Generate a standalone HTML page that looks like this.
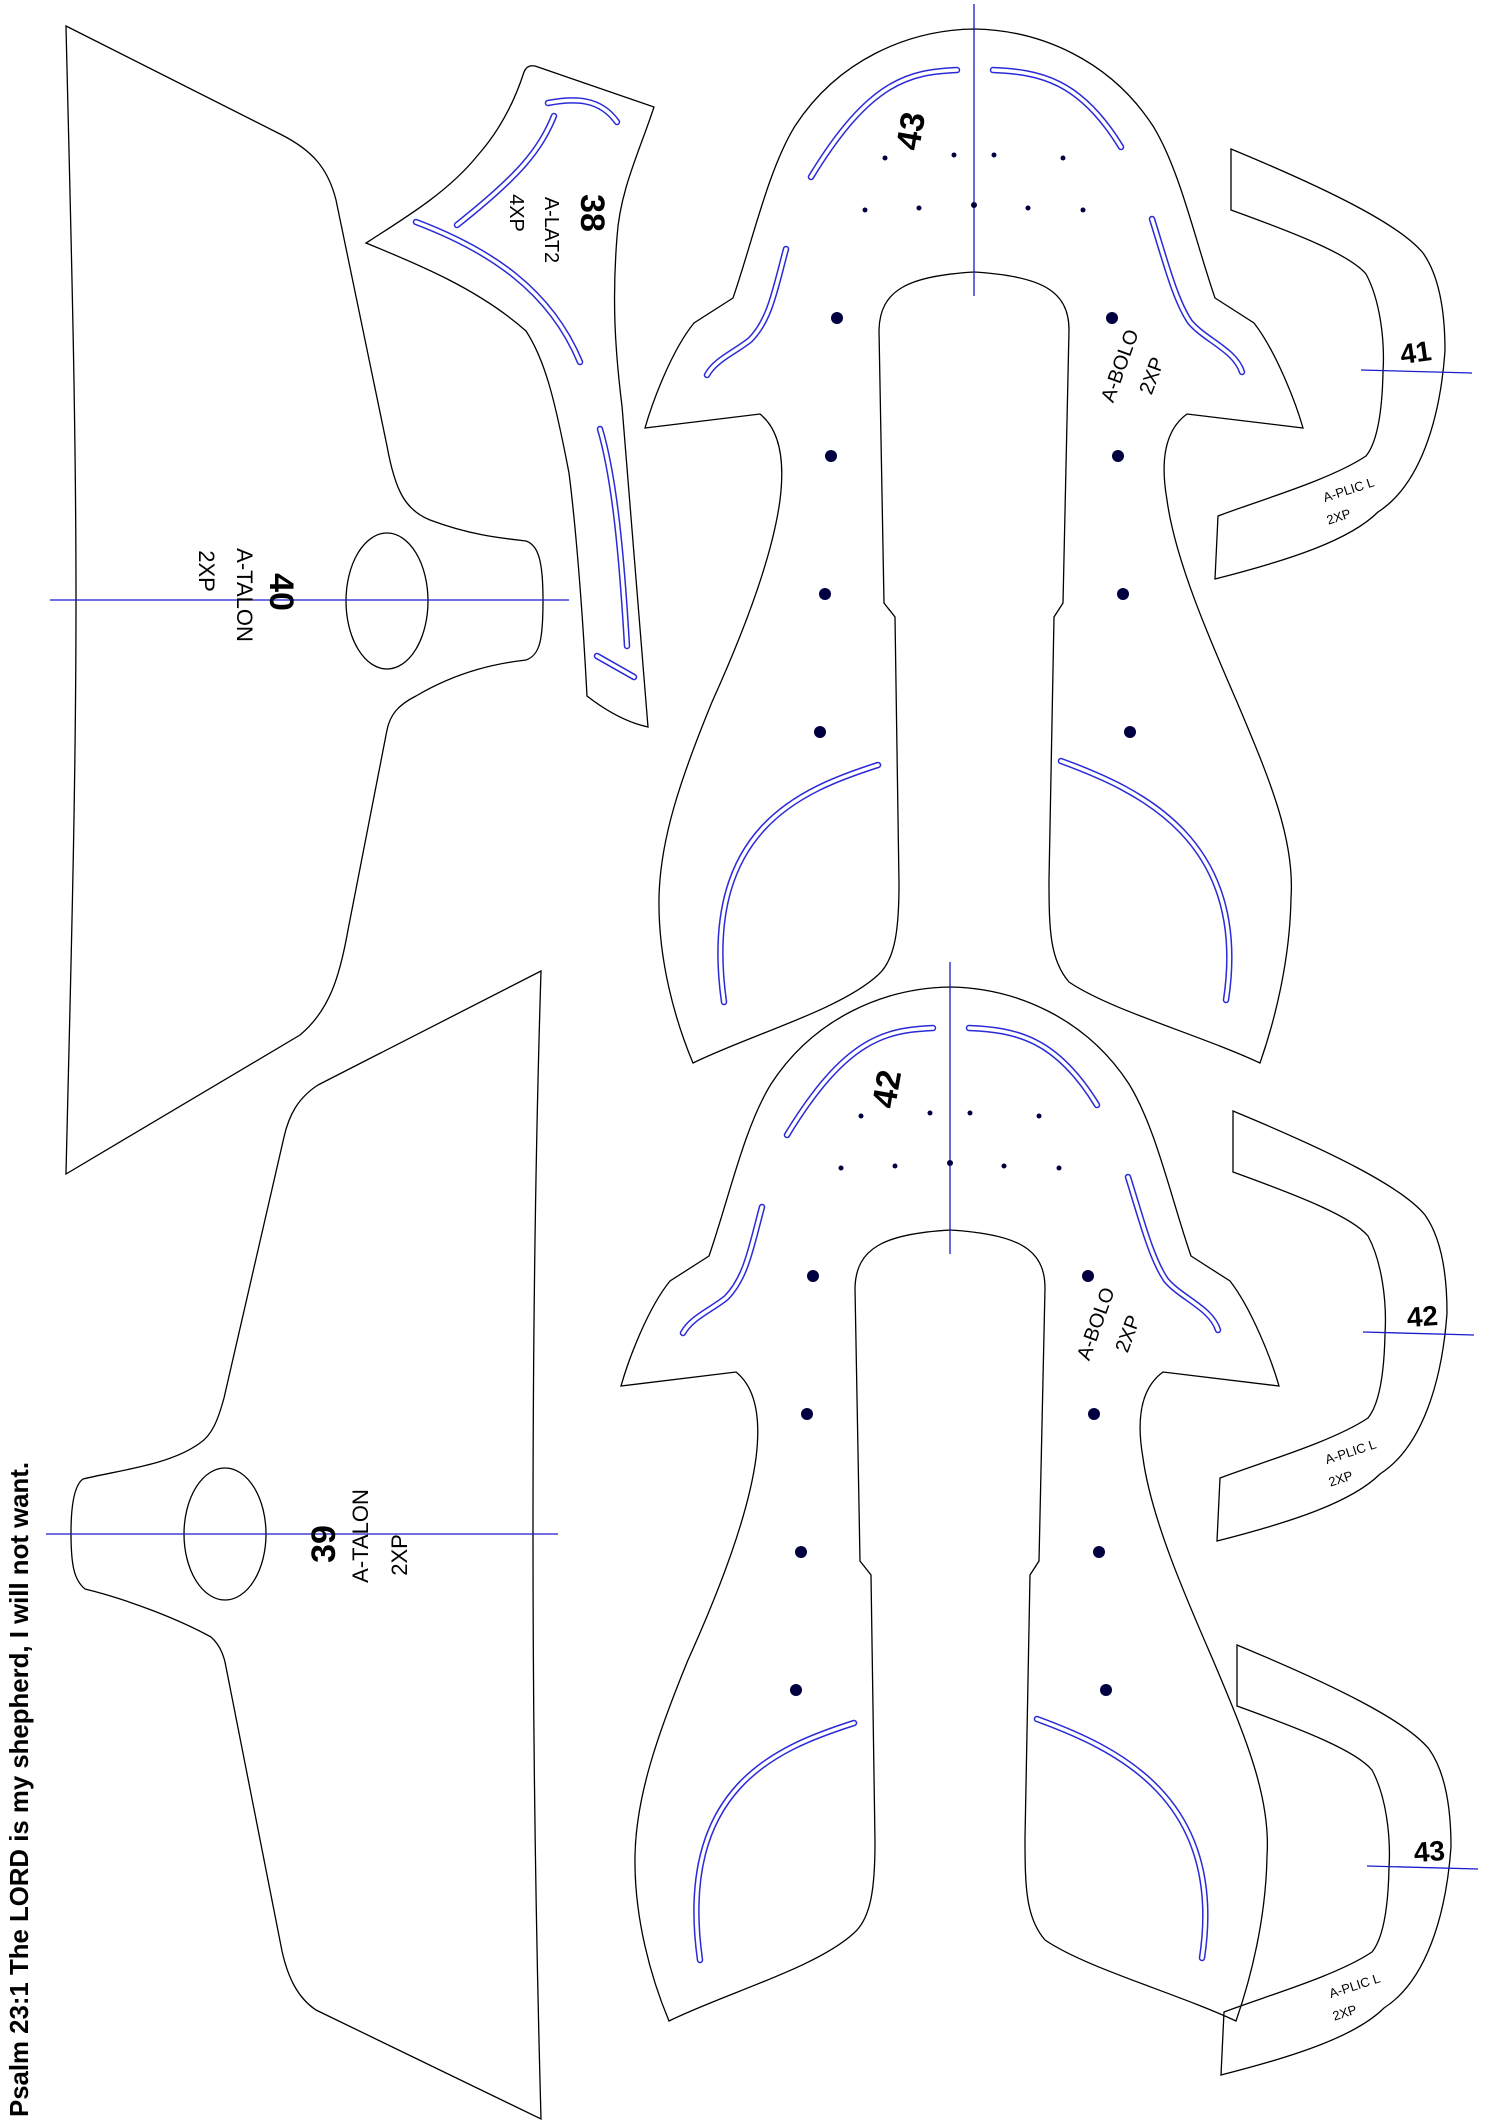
<!DOCTYPE html>
<html><head><meta charset="utf-8"><style>
html,body{margin:0;padding:0;background:#fff;}
svg{display:block;}
text{font-family:"Liberation Sans",sans-serif;fill:#000;}
.num{font-weight:bold;}
</style></head><body>
<svg width="1500" height="2121" viewBox="0 0 1500 2121" xmlns="http://www.w3.org/2000/svg">
<defs>
<g id="bolo">
<path d="M974,29 C1040,30 1110,60 1153,126 C1180,170 1195,240 1215,298 L1254,323 C1275,350 1295,400 1303,428 L1187,414 C1165,430 1160,460 1167,500 C1175,560 1210,640 1237,702 C1270,780 1295,840 1291,898 C1290,960 1275,1020 1260,1063 C1200,1035 1110,1010 1069,982 C1050,960 1049,930 1049,880 L1054,617 L1063,603 L1069,330 C1069,290 1040,276 974,272 C908,276 880,290 879,330 L884,603 L895,617 L899,884 C899,930 895,960 878,975 C840,1010 750,1035 693,1063 C675,1020 658,960 659,898 C660,840 680,780 712,702 C740,640 772,560 780,500 C785,460 780,430 760,414 L645,428 C653,400 672,350 694,323 L733,298 C753,240 768,170 795,126 C838,60 908,30 974,29 Z" fill="none" stroke="#000" stroke-width="1.3"/>
<g fill="none" stroke-linecap="round">
<g stroke="#2a2ad8" stroke-width="6.5">
<path d="M957,70 C910,72 870,80 811,177"/>
<path d="M993,70 C1040,72 1080,80 1121,147"/>
<path d="M786,249 C775,290 770,320 750,340 C735,352 715,360 707,375"/>
<path d="M1152,219 C1165,260 1175,300 1190,322 C1205,340 1235,350 1242,372"/>
<path d="M878,765 C800,790 700,830 724,1002"/>
<path d="M1061,761 C1140,790 1250,840 1226,1000"/>
</g>
<g stroke="#fff" stroke-width="3.5">
<path d="M957,70 C910,72 870,80 811,177"/>
<path d="M993,70 C1040,72 1080,80 1121,147"/>
<path d="M786,249 C775,290 770,320 750,340 C735,352 715,360 707,375"/>
<path d="M1152,219 C1165,260 1175,300 1190,322 C1205,340 1235,350 1242,372"/>
<path d="M878,765 C800,790 700,830 724,1002"/>
<path d="M1061,761 C1140,790 1250,840 1226,1000"/>
</g>
</g>
<line x1="974" y1="4" x2="974" y2="296" stroke="#1a1ad0" stroke-width="1.3"/>
<g fill="#000040">
<circle cx="885" cy="158" r="2.5"/><circle cx="954" cy="155" r="2.5"/><circle cx="994" cy="155" r="2.5"/><circle cx="1063" cy="158" r="2.5"/>
<circle cx="865" cy="210" r="2.5"/><circle cx="919" cy="208" r="2.5"/><circle cx="974" cy="205" r="3"/><circle cx="1028" cy="208" r="2.5"/><circle cx="1083" cy="210" r="2.5"/>
<circle cx="837" cy="318" r="6"/><circle cx="831" cy="456" r="6"/><circle cx="825" cy="594" r="6"/><circle cx="820" cy="732" r="6"/>
<circle cx="1112" cy="318" r="6"/><circle cx="1118" cy="456" r="6"/><circle cx="1123" cy="594" r="6"/><circle cx="1130" cy="732" r="6"/>
</g>
<text transform="translate(1126,368) rotate(-70)" font-size="20" text-anchor="middle">A-BOLO</text>
<text transform="translate(1158,378) rotate(-70)" font-size="20" text-anchor="middle">2XP</text>
</g>
<g id="plic">
<path d="M1231,149 L1231,210 C1300,235 1350,255 1366,274 C1380,300 1385,340 1383,372 C1382,420 1375,445 1366,456 C1330,480 1260,500 1218,516 L1215,579 C1290,560 1350,540 1378,512 C1420,485 1440,420 1445,351 C1445,300 1435,270 1423,253 C1400,225 1330,190 1231,149 Z" fill="none" stroke="#000" stroke-width="1.3"/>
<line x1="1361" y1="370" x2="1472" y2="373" stroke="#1a1ad0" stroke-width="1.3"/>
<text transform="translate(1350,494) rotate(-18)" font-size="13" text-anchor="middle">A-PLIC L</text>
<text transform="translate(1340,521) rotate(-18)" font-size="13" text-anchor="middle">2XP</text>
</g>
</defs>

<!-- Piece 40 -->
<path d="M66,26 L280,134 C312,150 328,168 336,200 L387,446 C395,490 405,510 430,520 C470,535 500,538 526,541 C538,545 543,560 543,600 C543,640 540,655 526,660 C500,663 460,670 416,696 C398,705 390,715 387,730 L348,930 C340,975 330,1010 300,1035 L66,1174 C70,1000 76,800 76,600 C76,400 70,200 66,26 Z" fill="none" stroke="#000" stroke-width="1.3"/>
<ellipse cx="387" cy="601" rx="41" ry="68" fill="none" stroke="#000" stroke-width="1.3"/>
<line x1="50" y1="600" x2="569" y2="600" stroke="#1a1ad0" stroke-width="1.3"/>
<text class="num" transform="translate(270,592) rotate(90)" font-size="34" text-anchor="middle">40</text>
<text transform="translate(237,595) rotate(90)" font-size="22" text-anchor="middle">A-TALON</text>
<text transform="translate(199,571) rotate(90)" font-size="22" text-anchor="middle">2XP</text>

<!-- Piece 38 -->
<path d="M535,66 L654,107 C640,150 620,190 617,237 C612,300 615,350 622,406 L648,727 C625,722 605,710 587,696 C582,600 575,520 569,473 C555,400 545,360 526,331 C480,290 420,265 366,243 C410,215 450,190 478,155 C500,130 515,100 524,72 C526,67 530,65 535,66 Z" fill="none" stroke="#000" stroke-width="1.3"/>
<g fill="none" stroke-linecap="round">
<g stroke="#2a2ad8" stroke-width="6.5">
<path d="M548,103 C575,98 600,98 617,122"/>
<path d="M554,116 C540,150 520,175 457,225"/>
<path d="M416,222 C490,250 550,290 580,362"/>
<path d="M600,429 C615,480 622,560 627,646"/>
<path d="M597,656 L634,677"/>
</g>
<g stroke="#fff" stroke-width="3.5">
<path d="M548,103 C575,98 600,98 617,122"/>
<path d="M554,116 C540,150 520,175 457,225"/>
<path d="M416,222 C490,250 550,290 580,362"/>
<path d="M600,429 C615,480 622,560 627,646"/>
<path d="M597,656 L634,677"/>
</g>
</g>
<text class="num" transform="translate(581,213) rotate(90)" font-size="34" text-anchor="middle">38</text>
<text transform="translate(545,230) rotate(90)" font-size="20" text-anchor="middle">A-LAT2</text>
<text transform="translate(510,213) rotate(90)" font-size="20" text-anchor="middle">4XP</text>

<!-- Piece 39 -->
<path d="M541,971 L318,1085 C298,1098 289,1115 284,1137 L224,1398 C218,1420 212,1435 200,1443 C170,1465 120,1470 83,1479 C76,1484 71,1500 71,1533 C71,1565 74,1580 85,1589 C130,1600 180,1620 211,1637 C220,1645 224,1655 226,1667 L282,1951 C288,1978 298,1998 316,2010 L541,2119 C535,1900 533,1700 533,1533 C533,1300 537,1100 541,971 Z" fill="none" stroke="#000" stroke-width="1.3"/>
<ellipse cx="225" cy="1534" rx="41" ry="66" fill="none" stroke="#000" stroke-width="1.3"/>
<line x1="46" y1="1534" x2="558" y2="1534" stroke="#1a1ad0" stroke-width="1.3"/>
<text class="num" transform="translate(335,1544) rotate(-90)" font-size="34" text-anchor="middle">39</text>
<text transform="translate(368,1536) rotate(-90)" font-size="22" text-anchor="middle">A-TALON</text>
<text transform="translate(407,1555) rotate(-90)" font-size="22" text-anchor="middle">2XP</text>

<!-- Bolos -->
<use href="#bolo"/>
<text class="num" transform="translate(922,133) rotate(-80)" font-size="34" text-anchor="middle">43</text>
<use href="#bolo" transform="translate(-24,958)"/>
<text class="num" transform="translate(898,1091) rotate(-80)" font-size="34" text-anchor="middle">42</text>

<!-- Plics -->
<use href="#plic"/>
<text class="num" transform="translate(1417,362) rotate(-8)" font-size="28" text-anchor="middle">41</text>
<use href="#plic" transform="translate(2,962)"/>
<text class="num" transform="translate(1423,1326) rotate(-4)" font-size="28" text-anchor="middle">42</text>
<use href="#plic" transform="translate(6,1496)"/>
<text class="num" transform="translate(1430,1861) rotate(-4)" font-size="28" text-anchor="middle">43</text>

<!-- Psalm -->
<text transform="translate(28,2117) rotate(-90)" font-size="26" font-weight="bold" textLength="655" lengthAdjust="spacingAndGlyphs">Psalm 23:1 The LORD is my shepherd, I will not want.</text>
</svg>
</body></html>
